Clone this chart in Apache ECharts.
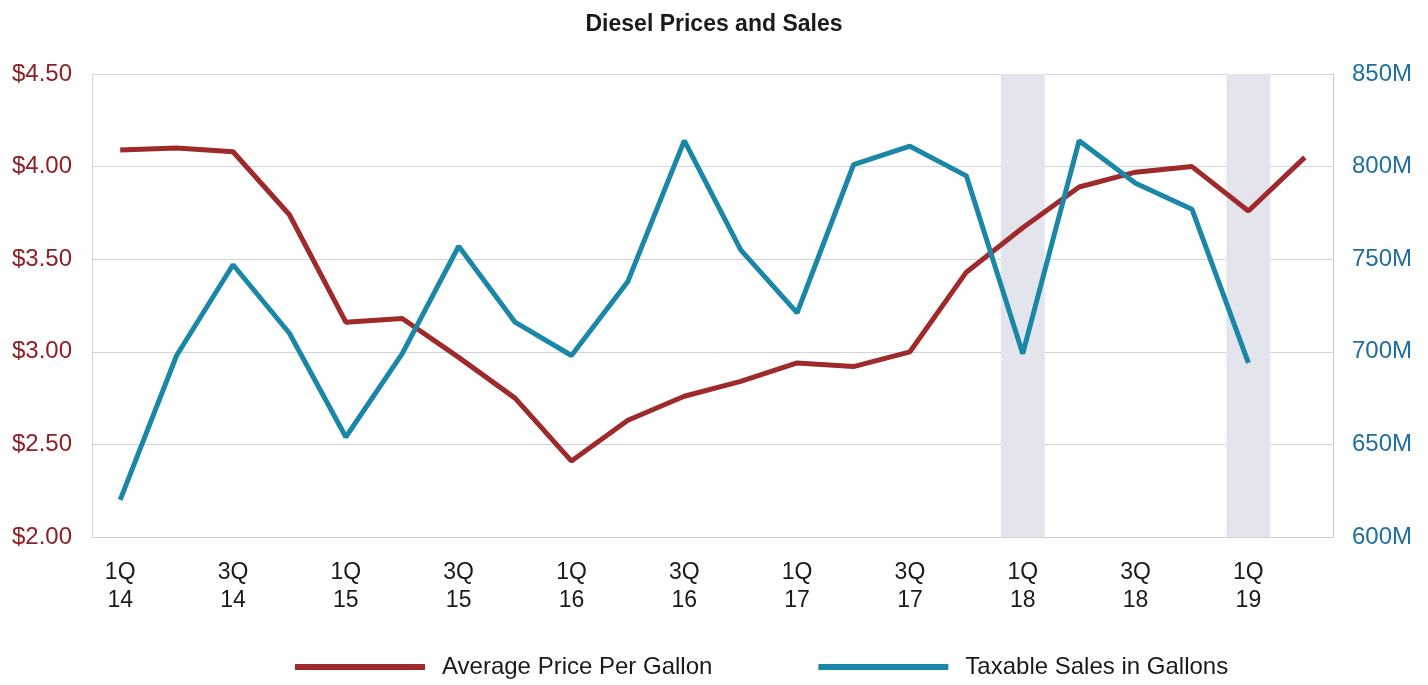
<!DOCTYPE html>
<html>
<head>
<meta charset="utf-8">
<script src="https://cdn.jsdelivr.net/npm/echarts@6/dist/echarts.min.js"></script>
<style>
  html, body { margin: 0; padding: 0; background: #ffffff; }
  #chart { width: 1428px; height: 685px; }
</style>
</head>
<body>
<div id="chart"></div>
<script>
// Quarters from 1Q14 through 2Q19
const quarters = ['1Q14','2Q14','3Q14','4Q14','1Q15','2Q15','3Q15','4Q15','1Q16','2Q16','3Q16','4Q16',
                  '1Q17','2Q17','3Q17','4Q17','1Q18','2Q18','3Q18','4Q18','1Q19','2Q19'];
// Average price per gallon of diesel, dollars
const avgPrice = [4.09, 4.10, 4.08, 3.74, 3.16, 3.18, 2.97, 2.75, 2.41, 2.63, 2.76, 2.84,
                  2.94, 2.92, 3.00, 3.43, 3.67, 3.89, 3.97, 4.00, 3.76, 4.05];
// Taxable sales in gallons, millions
const taxableSales = [620, 698, 747, 710, 654, 699, 757, 716, 698, 738, 814, 755,
                      721, 801, 811, 795, 699, 814, 791, 777, 694, null];
// Quarters highlighted with a shaded column
const shadedQuarters = ['1Q18', '1Q19'];
// Axis ranges
const priceTicks = { min: 2.0, max: 4.5, step: 0.5 };
const salesTicks = { min: 600, max: 850, step: 50 };

const RED = '#9E2A2B';
const BLUE = '#1B87A6';
const FONT = '"Liberation Sans", Arial, sans-serif';

const categoryLabels = quarters.map(q => q.slice(0, 2) + '\n' + q.slice(2));
const shadeData = quarters.map(q => shadedQuarters.includes(q) ? salesTicks.max : null);

const chart = echarts.init(document.getElementById('chart'));
chart.setOption({
  animation: false,
  backgroundColor: '#ffffff',
  title: {
    text: 'Diesel Prices and Sales',
    left: 'center',
    top: 8,
    textStyle: { fontFamily: FONT, fontSize: 23, fontWeight: 'bold', color: '#1a1a1a' }
  },
  legend: {
    data: ['Average Price Per Gallon', 'Taxable Sales in Gallons'],
    bottom: 1,
    left: 290,
    icon: 'rect',
    itemWidth: 130,
    itemHeight: 6,
    itemGap: 106,
    textStyle: { fontFamily: FONT, fontSize: 24, color: '#1a1a1a', padding: [0, 0, 0, 12] }
  },
  grid: { left: 92, right: 95, top: 74, bottom: 148, containLabel: false },
  xAxis: {
    type: 'category',
    data: categoryLabels,
    boundaryGap: true,
    axisLine: { show: true, lineStyle: { color: '#cfcfd4', width: 1 } },
    axisTick: { show: false },
    axisLabel: {
      interval: 1,
      margin: 22,
      fontFamily: FONT,
      fontSize: 23,
      lineHeight: 28,
      color: '#1a1a1a'
    },
    splitLine: { show: false }
  },
  yAxis: [
    {
      type: 'value',
      min: priceTicks.min,
      max: priceTicks.max,
      interval: priceTicks.step,
      position: 'left',
      axisLine: { show: true, lineStyle: { color: '#d4d4da' } },
      axisTick: { show: false },
      axisLabel: {
        margin: 20,
        fontFamily: FONT,
        fontSize: 24,
        color: '#8E1F24',
        formatter: v => '$' + v.toFixed(2)
      },
      splitLine: { show: true, lineStyle: { color: '#d4d5dc', width: 1 } }
    },
    {
      type: 'value',
      min: salesTicks.min,
      max: salesTicks.max,
      interval: salesTicks.step,
      position: 'right',
      axisLine: { show: true, lineStyle: { color: '#c8c8cc' } },
      axisTick: { show: false },
      axisLabel: {
        margin: 19,
        fontFamily: FONT,
        fontSize: 24,
        color: '#1F6E9E',
        formatter: v => v + 'M'
      },
      splitLine: { show: false }
    }
  ],
  series: [
    {
      name: 'shade',
      type: 'bar',
      yAxisIndex: 1,
      data: shadeData,
      barWidth: '78%',
      itemStyle: { color: '#e4e5ec' },
      silent: true,
      z: 1
    },
    {
      name: 'Average Price Per Gallon',
      type: 'line',
      yAxisIndex: 0,
      data: avgPrice,
      showSymbol: false,
      symbol: 'none',
      lineStyle: { color: RED, width: 5 },
      itemStyle: { color: RED },
      z: 3
    },
    {
      name: 'Taxable Sales in Gallons',
      type: 'line',
      yAxisIndex: 1,
      data: taxableSales,
      showSymbol: false,
      symbol: 'none',
      lineStyle: { color: BLUE, width: 5 },
      itemStyle: { color: BLUE },
      z: 4
    }
  ]
});
</script>
</body>
</html>
